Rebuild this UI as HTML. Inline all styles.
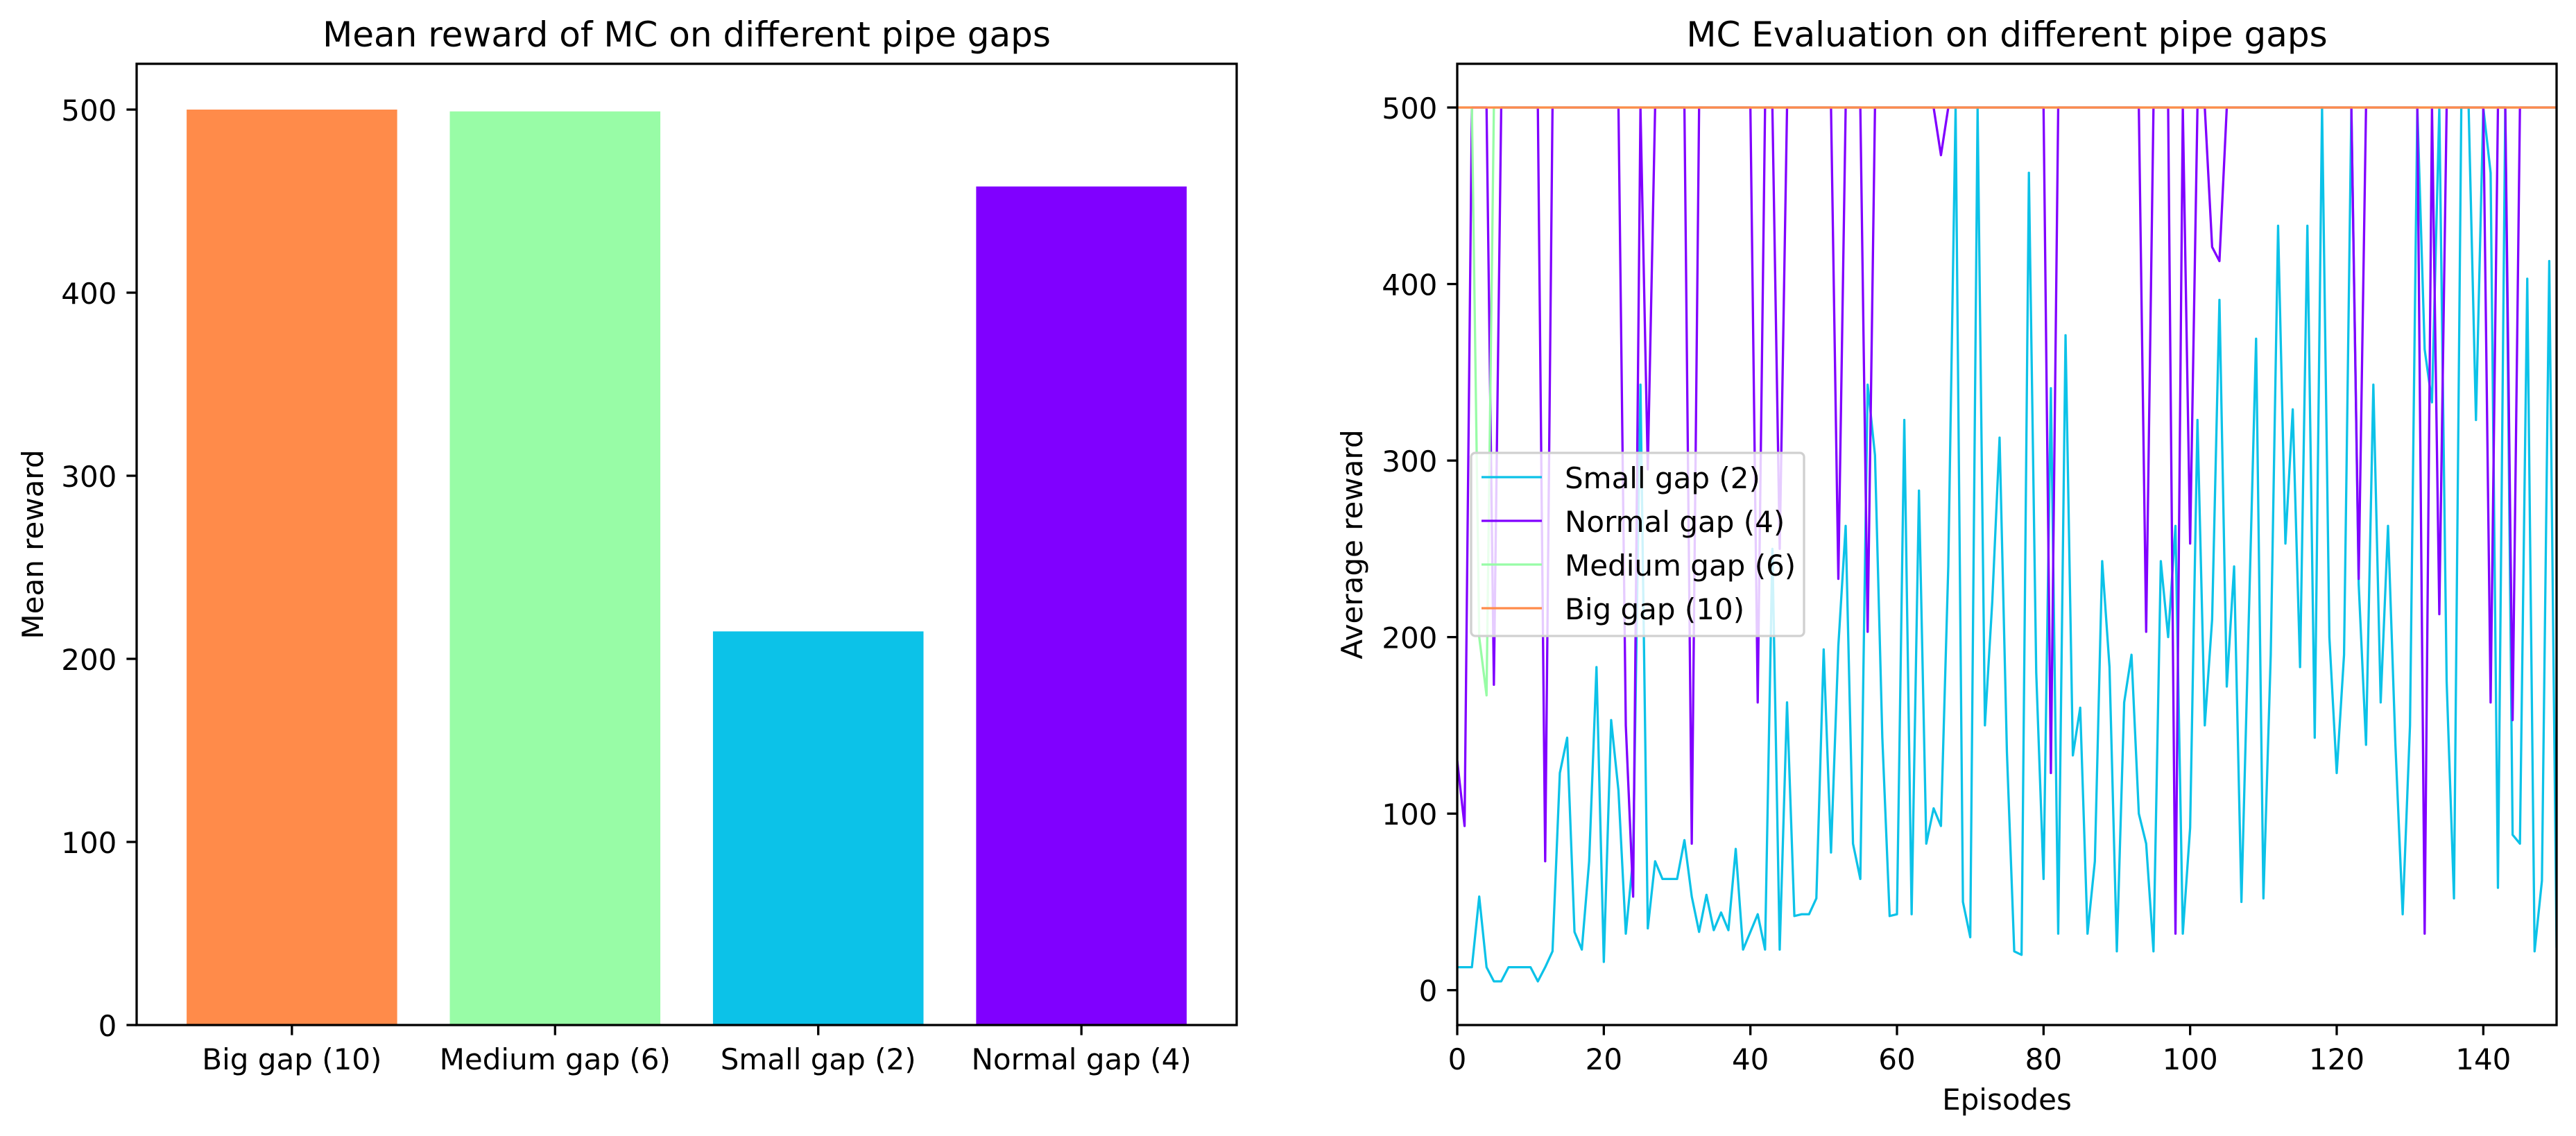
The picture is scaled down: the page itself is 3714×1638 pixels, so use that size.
<!DOCTYPE html>
<html><head><meta charset="utf-8">
<style>
html,body{margin:0;padding:0;background:#fff;}
svg{display:block;font-family:"DejaVu Sans","Liberation Sans",sans-serif;}
</style></head>
<body>
<svg id="fig" width="3714" height="1638" viewBox="0 0 3714 1638" xmlns="http://www.w3.org/2000/svg">
<rect x="0" y="0" width="3714" height="1638" fill="#fff"/>
<g id="left"></g>
<g id="right"></g>
</svg>
<script>
// ---- Bar chart data ----
const barCategories = ["Big gap (10)", "Medium gap (6)", "Small gap (2)", "Normal gap (4)"];
const barValues = [500, 499, 215, 458];
const barColors = ["#ff8b4a", "#98fca6", "#0cc2e8", "#8000ff"];
const barYTicks = [0, 100, 200, 300, 400, 500];

// ---- Line chart data ----
const seriesNames = ["Small gap (2)", "Normal gap (4)", "Medium gap (6)", "Big gap (10)"];
const seriesColors = ["#0cc2e8", "#8000ff", "#98fca6", "#ff8b4a"];
const smallGap = [13,13,13,53,13,5,5,13,13,13,13,5,13,22,123,143,33,23,73,183,16,153,113,32,75,343,35,73,63,63,63,85,53,33,54,34,44,34,80,23,33,43,23,250,23,163,42,43,43,52,193,78,195,263,83,63,343,303,143,42,43,323,43,283,83,103,93,240,500,50,30,500,150,220,313,135,22,20,463,180,63,341,32,371,133,160,32,73,243,183,22,163,190,100,83,22,243,200,263,32,92,323,150,210,391,172,240,50,210,369,52,190,433,253,329,183,433,143,500,200,123,190,500,230,139,343,163,263,140,43,150,500,363,333,500,175,52,500,500,323,500,463,58,500,88,83,403,22,62,413,24];
const normalGap = [130,93,500,500,500,173,500,500,500,500,500,500,73,500,500,500,500,500,500,500,500,500,500,150,53,500,295,500,500,500,500,500,83,500,500,500,500,500,500,500,500,163,500,500,250,500,500,500,500,500,500,500,233,500,500,500,203,500,500,500,500,500,500,500,500,500,473,500,500,500,500,500,500,500,500,500,500,500,500,500,500,123,500,500,500,500,500,500,500,500,500,500,500,500,203,500,500,500,32,500,253,500,500,421,413,500,500,500,500,500,500,500,500,500,500,500,500,500,500,500,500,500,500,233,500,500,500,500,500,500,500,500,32,500,213,500,500,500,500,500,500,163,500,500,153,500,500,500,500,500,500];
const mediumGap = [500,500,500,200,167,500,500,500,500,500,500,500,500,500,500,500,500,500,500,500,500,500,500,500,500,500,500,500,500,500,500,500,500,500,500,500,500,500,500,500,500,500,500,500,500,500,500,500,500,500,500,500,500,500,500,500,500,500,500,500,500,500,500,500,500,500,500,500,500,500,500,500,500,500,500,500,500,500,500,500,500,500,500,500,500,500,500,500,500,500,500,500,500,500,500,500,500,500,500,500,500,500,500,500,500,500,500,500,500,500,500,500,500,500,500,500,500,500,500,500,500,500,500,500,500,500,500,500,500,500,500,500,500,500,500,500,500,500,500,500,500,500,500,500,500,500,500,500,500,500,500];
const bigGap = [500,500,500,500,500,500,500,500,500,500,500,500,500,500,500,500,500,500,500,500,500,500,500,500,500,500,500,500,500,500,500,500,500,500,500,500,500,500,500,500,500,500,500,500,500,500,500,500,500,500,500,500,500,500,500,500,500,500,500,500,500,500,500,500,500,500,500,500,500,500,500,500,500,500,500,500,500,500,500,500,500,500,500,500,500,500,500,500,500,500,500,500,500,500,500,500,500,500,500,500,500,500,500,500,500,500,500,500,500,500,500,500,500,500,500,500,500,500,500,500,500,500,500,500,500,500,500,500,500,500,500,500,500,500,500,500,500,500,500,500,500,500,500,500,500,500,500,500,500,500,500];
const lineXTicks = [0, 20, 40, 60, 80, 100, 120, 140];
const lineYTicks = [0, 100, 200, 300, 400, 500];

const NS = "http://www.w3.org/2000/svg";
function mk(parent, tag, attrs, text) {
  const e = document.createElementNS(NS, tag);
  for (const k in attrs) e.setAttribute(k, attrs[k]);
  if (text !== undefined) e.textContent = text;
  parent.appendChild(e);
  return e;
}
const FS = 42, TITLE_FS = 50, TICK = 14.6, SPINE = 3.3, LW = 3.3;
const TOP = 92, BOT = 1478;

// ---------- Left bar chart ----------
(function(){
  const g = document.getElementById('left');
  const L = 197, R = 1783, T = TOP, B = BOT;
  const xmin = -0.59, xmax = 3.59, ymin = 0, ymax = 525;
  const sx = v => L + (v - xmin) / (xmax - xmin) * (R - L);
  const sy = v => B - (v - ymin) / (ymax - ymin) * (B - T);
  barValues.forEach((v, i) => {
    const r = mk(g, 'rect', {x: sx(i - 0.4), y: sy(v), width: sx(i + 0.4) - sx(i - 0.4), height: sy(0) - sy(v), fill: barColors[i]});
    
    
  });
  barYTicks.forEach(t => {
    const y = sy(t);
    const tl = mk(g, 'line', {x1: L - TICK, x2: L, y1: y, y2: y, stroke: '#000', 'stroke-width': SPINE});
    
    
    const tx = mk(g, 'text', {x: L - TICK - 14, y: y + 16, 'font-size': FS, 'text-anchor': 'end'}, String(t));
    
    
  });
  barCategories.forEach((c, i) => {
    const x = sx(i);
    const tl = mk(g, 'line', {x1: x, x2: x, y1: B, y2: B + TICK, stroke: '#000', 'stroke-width': SPINE});
    
    
    const tx = mk(g, 'text', {x: x, y: 1542, 'font-size': FS, 'text-anchor': 'middle'}, c);
    
    
  });
  const fr = mk(g, 'rect', {x: L, y: T, width: R - L, height: B - T, fill: 'none', stroke: '#000', 'stroke-width': SPINE});
  
  
  const ti = mk(g, 'text', {x: (L + R) / 2, y: 67, 'font-size': TITLE_FS, 'text-anchor': 'middle'}, 'Mean reward of MC on different pipe gaps');
  
  
  const yl = mk(g, 'text', {x: 0, y: 0, 'font-size': FS, 'text-anchor': 'middle', transform: 'translate(62,' + (T + B) / 2 + ') rotate(-90)'}, 'Mean reward');
  
  
})();

// ---------- Right line chart ----------
(function(){
  const g = document.getElementById('right');
  const L = 2101, R = 3686, T = TOP, B = BOT;
  const xmin = 0, xmax = 150, ymin = -19.75, ymax = 524.75;
  const sx = v => L + (v - xmin) / (xmax - xmin) * (R - L);
  const sy = v => B - (v - ymin) / (ymax - ymin) * (B - T);
  const cp = mk(mk(g, 'defs', {}), 'clipPath', {id: 'clipR'});
  mk(cp, 'rect', {x: L, y: T, width: R - L, height: B - T});
  const data = [smallGap, normalGap, mediumGap, bigGap];
  data.forEach((arr, si) => {
    const pts = arr.map((v, i) => sx(i).toFixed(2) + ',' + sy(v).toFixed(2)).join(' ');
    const pl = mk(g, 'polyline', {points: pts, fill: 'none', stroke: seriesColors[si], 'stroke-width': LW, 'stroke-linejoin': 'round', 'clip-path': 'url(#clipR)'});
    
    
  });
  lineYTicks.forEach(t => {
    const y = sy(t);
    const tl = mk(g, 'line', {x1: L - TICK, x2: L, y1: y, y2: y, stroke: '#000', 'stroke-width': SPINE});
    
    
    const tx = mk(g, 'text', {x: L - TICK - 14, y: y + 16, 'font-size': FS, 'text-anchor': 'end'}, String(t));
    
    
  });
  lineXTicks.forEach(t => {
    const x = sx(t);
    const tl = mk(g, 'line', {x1: x, x2: x, y1: B, y2: B + TICK, stroke: '#000', 'stroke-width': SPINE});
    
    
    const tx = mk(g, 'text', {x: x, y: 1542, 'font-size': FS, 'text-anchor': 'middle'}, String(t));
    
    
  });
  const fr = mk(g, 'rect', {x: L, y: T, width: R - L, height: B - T, fill: 'none', stroke: '#000', 'stroke-width': SPINE});
  
  
  const ti = mk(g, 'text', {x: (L + R) / 2, y: 67, 'font-size': TITLE_FS, 'text-anchor': 'middle'}, 'MC Evaluation on different pipe gaps');
  
  
  const yl = mk(g, 'text', {x: 0, y: 0, 'font-size': FS, 'text-anchor': 'middle', transform: 'translate(1964,' + (T + B) / 2 + ') rotate(-90)'}, 'Average reward');
  
  
  const xl = mk(g, 'text', {x: (L + R) / 2, y: 1600, 'font-size': FS, 'text-anchor': 'middle'}, 'Episodes');
  
  
  // legend
  const lg = mk(g, 'g', {});
  
  
  mk(lg, 'rect', {x: 2121, y: 653, width: 480, height: 264, rx: 6, fill: '#fff', 'fill-opacity': 0.8, stroke: '#d0d0d0', 'stroke-width': 3.3});
  const rowsY = [688, 751, 814, 877];
  seriesNames.forEach((n, i) => {
    const e = mk(lg, 'g', {});
    
    
    mk(e, 'line', {x1: 2136, x2: 2223, y1: rowsY[i], y2: rowsY[i], stroke: seriesColors[i], 'stroke-width': LW});
    mk(e, 'text', {x: 2256, y: rowsY[i] + 16, 'font-size': FS}, n);
  });
})();
</script>
</body></html>
